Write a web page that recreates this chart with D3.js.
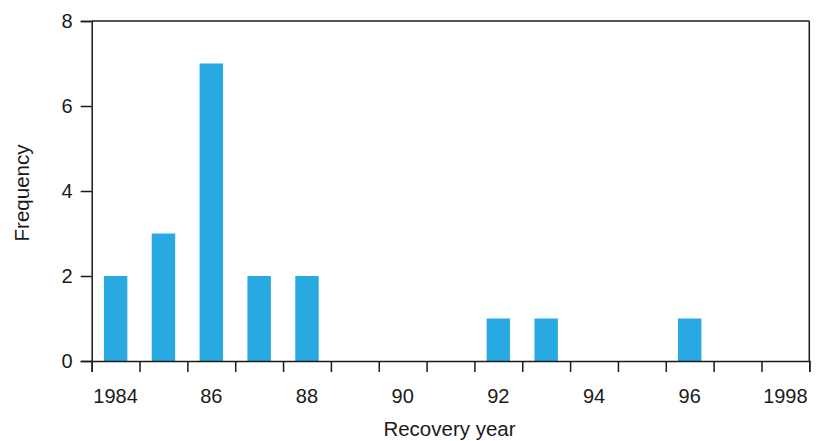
<!DOCTYPE html>
<html>
<head>
<meta charset="utf-8">
<script src="https://cdn.jsdelivr.net/npm/d3@7"></script>
<style>
  body { margin: 0; background: #fff; }
  text { font-family: "Liberation Sans", Arial, Helvetica, sans-serif; fill: #1a1a1a; }
</style>
</head>
<body>
<svg id="chart" width="818" height="441"></svg>
<script>
const years = [1984, 1985, 1986, 1987, 1988, 1989, 1990, 1991, 1992, 1993, 1994, 1995, 1996, 1997, 1998];
const frequency = [2, 3, 7, 2, 2, 0, 0, 0, 1, 1, 0, 0, 1, 0, 0];
const xTickLabels = ["1984", "86", "88", "90", "92", "94", "96", "1998"];
const xLabelYears = [1984, 1986, 1988, 1990, 1992, 1994, 1996, 1998];
const yTicks = [0, 2, 4, 6, 8];

const W = 818, H = 441;
const margin = { left: 91.7, right: 8.7, top: 21, bottom: 80 };
const svg = d3.select("#chart");

const x = d3.scaleLinear()
  .domain([years[0] - 0.5, years[years.length - 1] + 0.5])
  .range([margin.left, W - margin.right]);
const y = d3.scaleLinear().domain([0, 8]).range([H - margin.bottom, margin.top]);

const axisColor = "#1a1a1a";
const sw = 1.5;

// bars
svg.append("g").selectAll("rect")
  .data(years.map((yr, i) => ({ yr, v: frequency[i] })).filter(d => d.v > 0))
  .join("rect")
  .attr("x", d => x(d.yr - 0.245))
  .attr("width", d => x(d.yr + 0.245) - x(d.yr - 0.245))
  .attr("y", d => y(d.v))
  .attr("height", d => y(0) - y(d.v))
  .attr("fill", "#29a9e1");

// frame: top and right
svg.append("line")
  .attr("x1", margin.left).attr("x2", W - margin.right)
  .attr("y1", y(8)).attr("y2", y(8))
  .attr("stroke", axisColor).attr("stroke-width", sw);
svg.append("line")
  .attr("x1", W - margin.right).attr("x2", W - margin.right)
  .attr("y1", y(8)).attr("y2", y(0))
  .attr("stroke", axisColor).attr("stroke-width", sw);

// y axis
const yAxis = svg.append("g")
  .attr("transform", `translate(${margin.left},0)`)
  .call(d3.axisLeft(y).tickValues(yTicks).tickSize(11).tickPadding(8).tickFormat(d3.format("d")));
yAxis.select(".domain").attr("stroke", axisColor).attr("stroke-width", sw);
yAxis.selectAll(".tick line").attr("stroke", axisColor).attr("stroke-width", sw);
yAxis.selectAll(".tick text").attr("font-size", 20).style("fill", "#1a1a1a");

// x axis: ticks at year boundaries
const boundaries = d3.range(years.length + 1).map(i => years[0] - 0.5 + i);
const xAxis = svg.append("g")
  .attr("transform", `translate(0,${y(0)})`)
  .call(d3.axisBottom(x).tickValues(boundaries).tickSize(11).tickFormat(""));
xAxis.select(".domain").attr("stroke", axisColor).attr("stroke-width", sw);
xAxis.selectAll(".tick line").attr("stroke", axisColor).attr("stroke-width", sw);

// x labels centered on years
svg.append("g").selectAll("text")
  .data(xLabelYears)
  .join("text")
  .attr("x", d => x(d))
  .attr("y", 402.7)
  .attr("text-anchor", "middle")
  .attr("font-size", 20)
  .text((d, i) => xTickLabels[i]);

// axis titles
svg.append("text")
  .attr("x", (margin.left + W - margin.right) / 2 - 1)
  .attr("y", 436)
  .attr("text-anchor", "middle")
  .attr("font-size", 20.5)
  .text("Recovery year");

svg.append("text")
  .attr("transform", `translate(29,${(y(0) + y(8)) / 2 + 2}) rotate(-90)`)
  .attr("text-anchor", "middle")
  .attr("font-size", 20.5)
  .text("Frequency");
</script>
</body>
</html>
